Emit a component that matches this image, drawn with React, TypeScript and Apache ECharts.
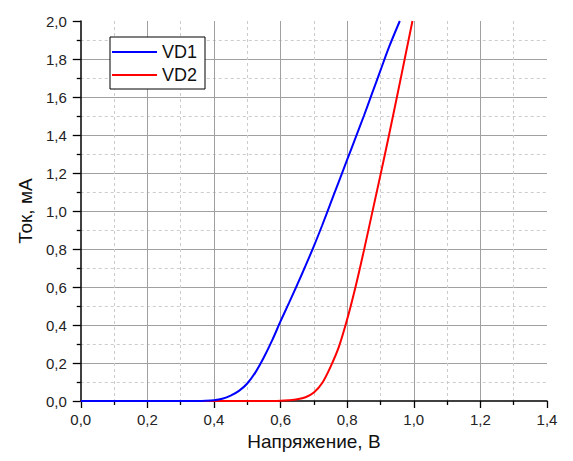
import React, { useEffect, useRef } from "react";
import * as echarts from "echarts";

const vd1: [number, number][] = [
  [0, 0], [0.3, 0], [0.325, 0], [0.35, 0], [0.375, 0.001], [0.4, 0.004], [0.425, 0.012],
  [0.45, 0.028], [0.475, 0.053], [0.5, 0.092], [0.525, 0.152], [0.55, 0.23],
  [0.575, 0.32], [0.6, 0.42], [0.625, 0.515], [0.65, 0.612], [0.675, 0.712],
  [0.7, 0.815], [0.725, 0.925], [0.75, 1.04], [0.775, 1.155], [0.8, 1.27],
  [0.825, 1.385], [0.85, 1.5], [0.875, 1.62], [0.9, 1.74], [0.925, 1.86],
  [0.958, 2.0],
];

const vd2: [number, number][] = [
  [0, 0], [0.5, 0], [0.525, 0], [0.55, 0], [0.575, 0], [0.6, 0.001], [0.625, 0.004],
  [0.65, 0.009], [0.675, 0.02], [0.7, 0.045], [0.725, 0.095], [0.75, 0.18],
  [0.775, 0.285], [0.8, 0.43], [0.825, 0.6], [0.85, 0.79], [0.875, 0.99],
  [0.9, 1.19], [0.925, 1.395], [0.95, 1.605], [0.975, 1.82], [0.996, 2.0],
];

const seriesNames = ["VD1", "VD2"];
const xTitle = "Напряжение, В";
const yTitle = "Ток, мА";

const fmt = (v: number) => v.toFixed(1).replace(".", ",");

export default function App() {
  const ref = useRef<HTMLDivElement>(null);
  useEffect(() => {
    if (!ref.current) return;
    const chart = echarts.init(ref.current, null, { renderer: "svg" });
    const font = "Liberation Sans, Arial, sans-serif";
    const axisCommon = {
      axisLine: { show: true, onZero: false, lineStyle: { color: "#000", width: 1.5 } },
      axisTick: { show: true, inside: false, length: 7, lineStyle: { color: "#000", width: 1.3 } },
      minorTick: { show: true, splitNumber: 2, length: 4, lineStyle: { color: "#000", width: 1.3 } },
      splitLine: { show: true, showMinLine: false, showMaxLine: false, lineStyle: { color: "#a0a0a0", width: 1 } },
      minorSplitLine: { show: true, lineStyle: { color: "#cccccc", width: 1, type: [3, 3] } },
      nameLocation: "middle" as const,
      nameTextStyle: { color: "#111", fontSize: 19, fontFamily: font },
    };
    chart.setOption({
      animation: false,
      backgroundColor: "#fff",
      textStyle: { fontFamily: font },
      grid: { left: 68, right: 26, top: 13, bottom: 60, containLabel: false },
      legend: {
        orient: "vertical",
        left: 102,
        top: 29,
        data: seriesNames,
        icon: "rect",
        itemWidth: 45,
        itemHeight: 2,
        itemGap: 5,
        padding: [6, 8, 5, 2],
        borderColor: "#000",
        borderWidth: 1,
        backgroundColor: "#fff",
        textStyle: { color: "#111", fontSize: 18, lineHeight: 18, fontFamily: font },
      },
      xAxis: {
        type: "value",
        min: 0,
        max: 1.4,
        interval: 0.2,
        name: xTitle,
        nameGap: 29,
        ...axisCommon,
        axisLabel: { color: "#222", fontSize: 15, fontFamily: font, formatter: fmt, margin: 11 },
      },
      yAxis: {
        type: "value",
        min: 0,
        max: 2,
        interval: 0.2,
        name: yTitle,
        nameGap: 40,
        ...axisCommon,
        axisTick: { ...axisCommon.axisTick, length: 8 },
        axisLabel: { color: "#222", fontSize: 15, fontFamily: font, formatter: fmt, margin: 14 },
      },
      series: [
        {
          name: seriesNames[0],
          type: "line",
          data: vd1,
          symbol: "none",
          smooth: 0.3,
          lineStyle: { color: "#0000ff", width: 2 },
          itemStyle: { color: "#0000ff" },
          z: 3,
        },
        {
          name: seriesNames[1],
          type: "line",
          data: vd2,
          symbol: "none",
          smooth: 0.3,
          lineStyle: { color: "#ff0000", width: 2 },
          itemStyle: { color: "#ff0000" },
          z: 2,
        },
      ],
    });
    return () => chart.dispose();
  }, []);
  return <div ref={ref} style={{ width: 565, height: 453 }} />;
}
